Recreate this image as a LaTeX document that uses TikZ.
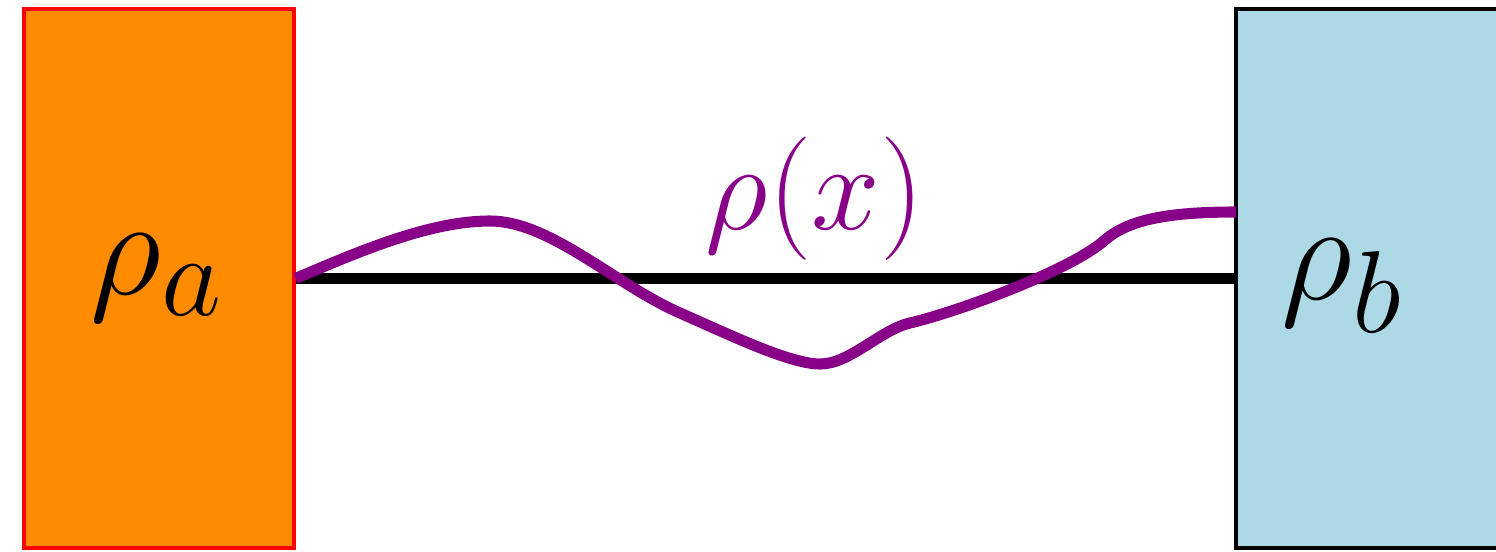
\documentclass[tikz,border=0pt]{standalone}
\usepackage{tikz}
\usetikzlibrary{positioning}
\usepackage{xcolor}
\definecolor{resorange}{HTML}{FF8C00}
\definecolor{resblue}{HTML}{ADD8E6}
\definecolor{rhopurple}{HTML}{880088}

\begin{document}
\begin{tikzpicture}[
    reservoir/.style={rectangle, minimum width=5.4cm, minimum height=10.78cm, line width=1.8pt, inner sep=0pt},
    wire/.style={line width=5.8pt, black},
    profile/.style={line width=6.3pt, rhopurple},
    biglabel/.style={font=\Huge, scale=3.2, inner sep=0pt},
    midlabel/.style={font=\Huge, scale=2.82, inner sep=0pt, text=rhopurple}]
  \useasboundingbox (0,0) rectangle (29.92,11.02);
  % Reservoirs
  \node[reservoir, fill=resorange, draw=red] (boxa) at (3.18,5.45) {};
  \node[reservoir, fill=resblue, draw=black] (boxb) at (27.42,5.45) {};
  \node[biglabel] (rhoa) at (3.15,5.47) {$\rho_a$};
  \node[biglabel] (rhob) at (26.85,5.3) {$\rho_b$};
  % Wire between the reservoirs
  \draw[wire] (boxa.east) -- (boxb.west);
  % Density profile
  \coordinate (rhoend) at (24.72,6.78);
  \draw[profile] (boxa.east) .. controls (7.2,6.0) and (8.6,6.6) .. (9.8,6.6)
    .. controls (11.0,6.6) and (12.3,5.33) .. (13.6,4.76)
    .. controls (14.6,4.32) and (15.8,3.74) .. (16.4,3.74)
    .. controls (17.0,3.74) and (17.6,4.42) .. (18.2,4.56)
    .. controls (19.1,4.77) and (21.4,5.6) .. (22.1,6.22)
    .. controls (22.6,6.66) and (23.5,6.78) .. (rhoend);
  \node[midlabel] (rhox) at (16.3,7.04) {$\rho(x)$};
\end{tikzpicture}
\end{document}
